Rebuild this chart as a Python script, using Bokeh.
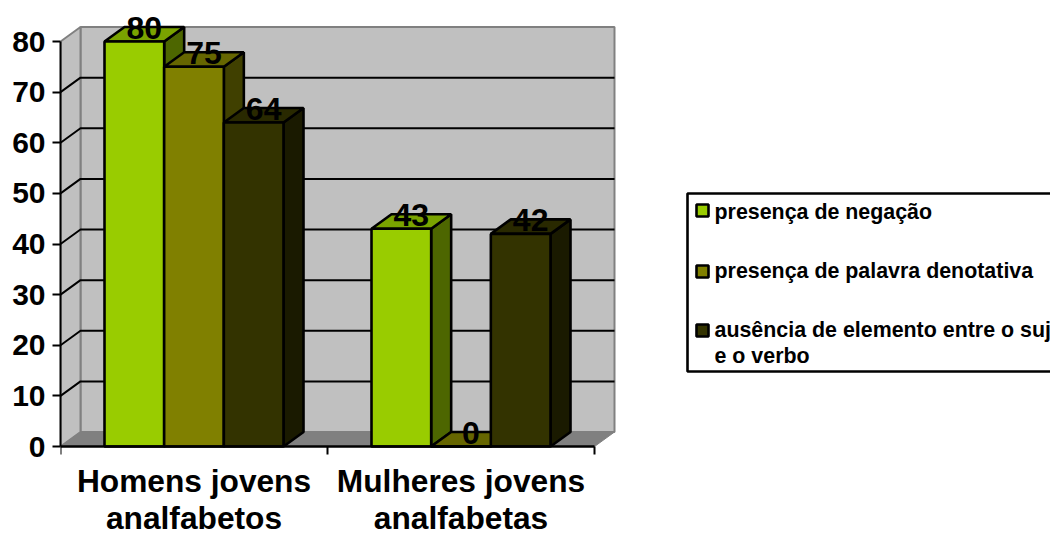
from bokeh.plotting import figure
from bokeh.models import ColumnDataSource, FixedTicker, LinearAxis, Range1d
from bokeh.core.properties import value
from bokeh.embed import file_html
from bokeh.resources import INLINE

categories = ["Homens jovens\nanalfabetos", "Mulheres jovens\nanalfabetas"]
series_names = ["presença de negação", "presença de palavra denotativa",
                "ausência de elemento entre o suj\ne o verbo"]
series_values = [[80, 43], [75, 0], [64, 42]]
y_ticks = [0, 10, 20, 30, 40, 50, 60, 70, 80]
front_colors = ["#99CC00", "#808000", "#333300"]
top_colors = ["#7AA300", "#666600", "#292900"]
side_colors = ["#4D6600", "#404000", "#1A1A00"]

FONT = "Liberation Sans"
W, H = 1050, 535
LEFT, FRAME = 60, 446
PX_X, PX_Y = 267.0, 5.0625
dx, dy = 20 / PX_X, 14.5 / PX_Y
gap = 44 / PX_X
bw = (1 - 2 * gap) / 3
ymax = 80
EDGE = 2.6

p = figure(width=W, height=H, output_backend="svg", toolbar_location=None,
           min_border_left=LEFT, min_border_bottom=0, min_border_top=0, min_border_right=0,
           x_range=Range1d(0, (W - LEFT) / PX_X), y_range=Range1d((FRAME - H) / PX_Y, FRAME / PX_Y),
           x_axis_location=None, y_axis_location=None)
p.outline_line_color = None
p.grid.visible = False
p.background_fill_color = "white"

grey = "#808080"
p.quad(left=[dx], right=[2 + dx], bottom=[dy], top=[ymax + dy], fill_color="#C0C0C0",
       line_color=grey, line_width=2)
p.patch([0, dx, dx, 0], [0, dy, ymax + dy, ymax], fill_color="#C0C0C0", line_color=grey, line_width=2)
p.patch([0, 2, 2 + dx, dx], [0, 0, dy, dy], fill_color=grey, line_color=grey, line_width=1)

for v in y_ticks[1:-1]:
    p.line([0, dx, 2 + dx], [v, v + dy, v + dy], line_color="black", line_width=2)

for s, vals in enumerate(series_values):
    lefts = [c + gap + s * bw for c in range(len(vals))]
    rights = [l + bw for l in lefts]
    src = ColumnDataSource(dict(left=lefts, right=rights, top=vals, bottom=[0] * len(vals)))
    xs_top = [[l, r, r + dx, l + dx] for l, r in zip(lefts, rights)]
    ys_top = [[v, v, v + dy, v + dy] for v in vals]
    xs_side = [[r, r + dx, r + dx, r] for r in rights]
    ys_side = [[0, dy, v + dy, v] for v in vals]
    p.patches(xs_side, ys_side, fill_color=side_colors[s], line_color="black", line_width=EDGE)
    p.patches(xs_top, ys_top, fill_color=top_colors[s], line_color="black", line_width=EDGE)
    p.quad(left="left", right="right", top="top", bottom="bottom", source=src,
           fill_color=front_colors[s], line_color="black", line_width=EDGE)

for s, vals in enumerate(series_values):
    xs = [c + gap + s * bw + bw / 2 + dx / 2 for c in range(len(vals))]
    p.text(xs, vals, text=[str(v) for v in vals], text_font=value(FONT), text_font_style="bold",
           text_font_size="32px", text_color="black", text_align="center",
           text_baseline="alphabetic", y_offset=-14)

yaxis = LinearAxis(ticker=FixedTicker(ticks=y_ticks), bounds=(0, ymax))
yaxis.axis_line_color = "black"
yaxis.axis_line_width = 2
yaxis.major_tick_line_color = "black"
yaxis.major_tick_line_width = 2
yaxis.major_tick_out = 8
yaxis.major_tick_in = 0
yaxis.minor_tick_line_color = None
yaxis.major_label_text_font = FONT
yaxis.major_label_text_font_style = "bold"
yaxis.major_label_text_font_size = "30px"
yaxis.major_label_text_color = "black"
yaxis.major_label_standoff = 7
p.add_layout(yaxis, "left")

def X(px):
    return (px - LEFT) / PX_X
def Y(px):
    return (FRAME - px) / PX_Y

# x axis crosses the value axis at 0; the frame runs on below it for the category labels
xaxis = LinearAxis(ticker=FixedTicker(ticks=[], minor_ticks=[0, 1, 2]), bounds=(0, 2), fixed_location=0)
xaxis.axis_line_color = "black"
xaxis.axis_line_width = 2.5
xaxis.major_tick_line_color = None
xaxis.major_tick_out = 0
xaxis.major_tick_in = 0
xaxis.minor_tick_line_color = "black"
xaxis.minor_tick_line_width = 2
xaxis.minor_tick_out = 8
xaxis.minor_tick_in = 0
xaxis.major_label_text_font_size = "0px"
xaxis.major_label_standoff = 0
p.add_layout(xaxis, "below")

category_line_centers = [480.5, 517.5]
for c, name in enumerate(categories):
    for line, yc in zip(name.split("\n"), category_line_centers):
        p.text([c + 0.5], [Y(yc)], text=[line], text_font=value(FONT), text_font_style="bold",
               text_font_size="31.7px", text_color="black", text_align="center", text_baseline="middle")

p.quad(left=[X(687)], right=[X(1080)], top=[Y(193)], bottom=[Y(371)], fill_color="white",
       line_color="black", line_width=EDGE)
swatch_tops = [203, 264, 323]
line_centers = [[211], [270], [329, 355]]
for s, name in enumerate(series_names):
    t = swatch_tops[s]
    p.quad(left=[X(696)], right=[X(708)], top=[Y(t + 1)], bottom=[Y(t + 13)],
           fill_color=front_colors[s], line_color="black", line_width=EDGE)
    for line, yc in zip(name.split("\n"), line_centers[s]):
        p.text([X(714)], [Y(yc)], text=[line], text_font=value(FONT), text_font_style="bold",
               text_font_size="21.4px", text_color="black", text_align="left", text_baseline="middle")

open("out.html", "w").write(file_html(p, INLINE))
